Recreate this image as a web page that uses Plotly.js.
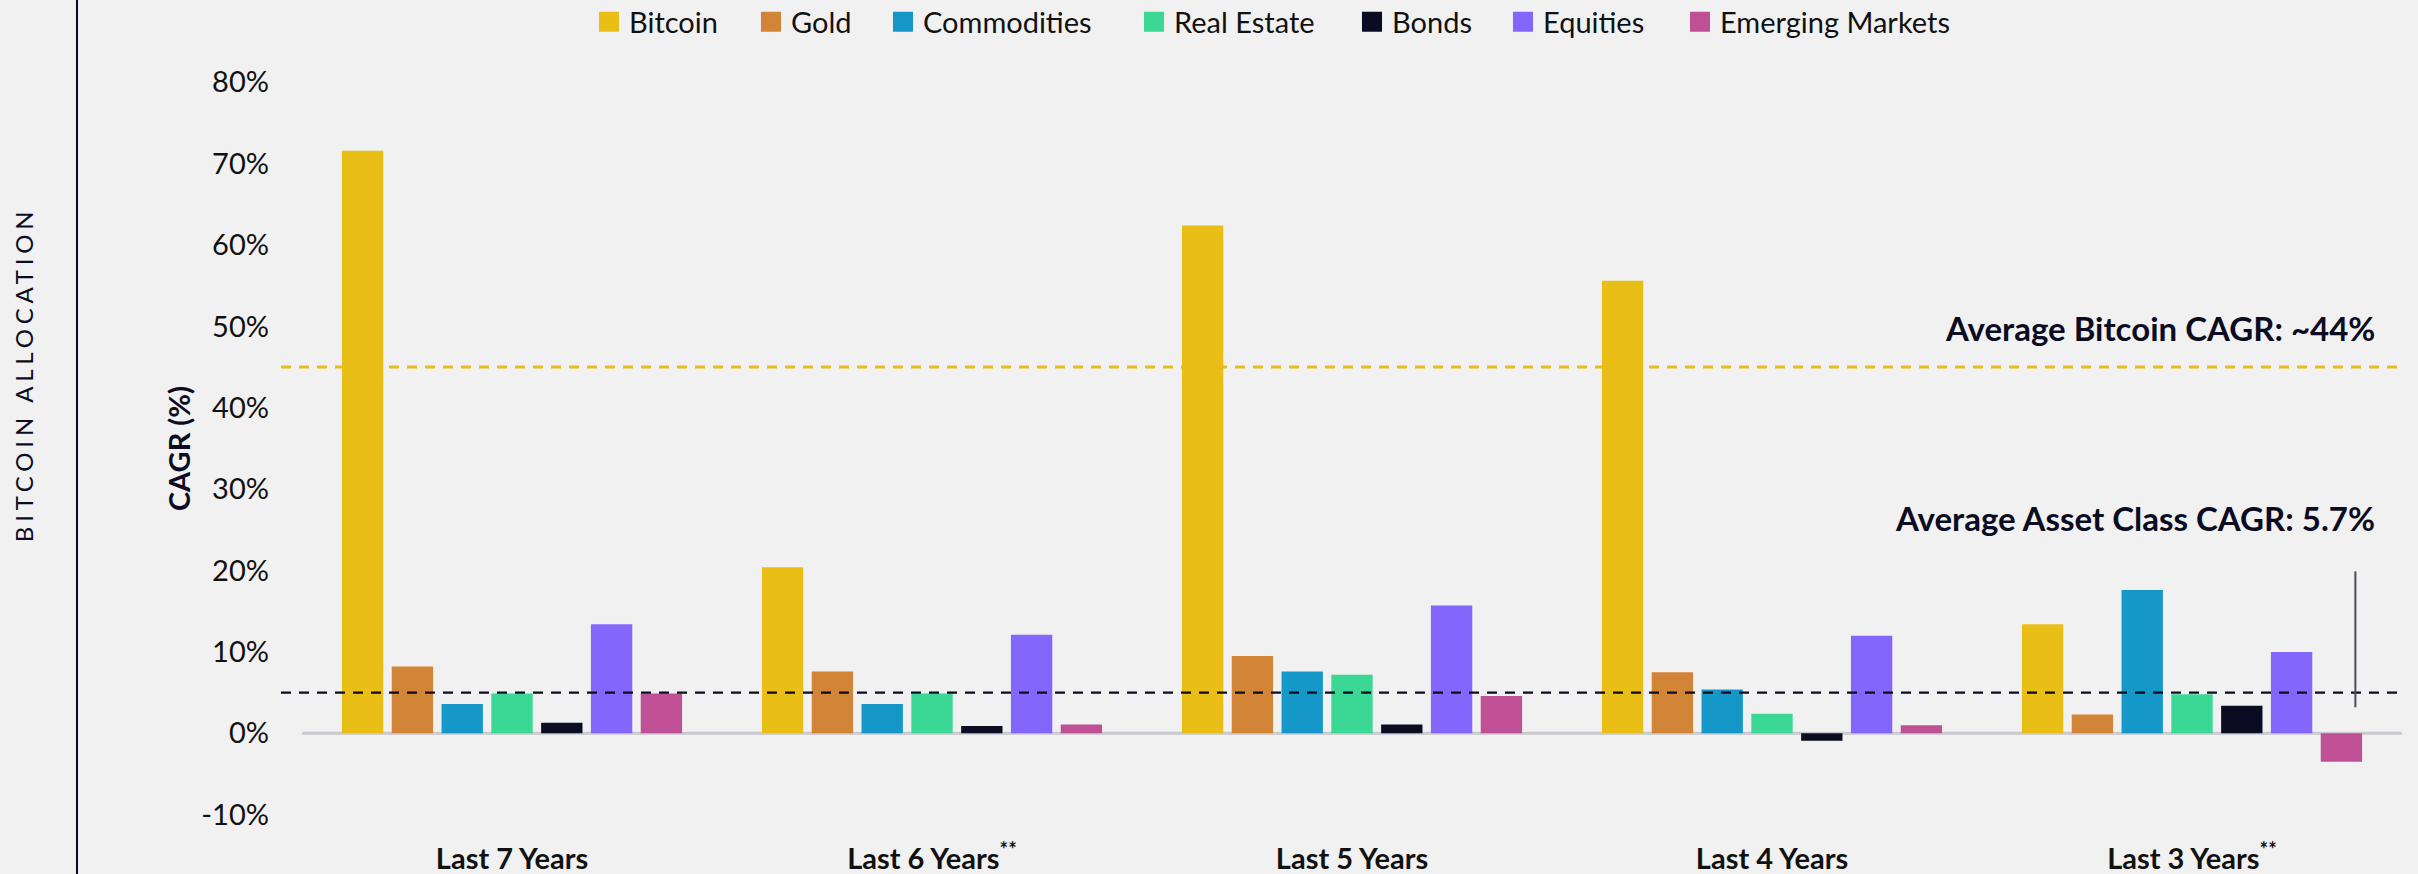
<!DOCTYPE html>
<html>
<head>
<meta charset="utf-8">
<script src="https://cdn.plot.ly/plotly-3.0.1.min.js"></script>
<style>
  html, body { margin: 0; padding: 0; background: #f1f1f1; }
  #chart { width: 2418px; height: 874px; }
</style>
</head>
<body>
<div id="chart"></div>
<script>
// ---- Data ----
const periods = ["Last 7 Years", "Last 6 Years<sup>**</sup>", "Last 5 Years", "Last 4 Years", "Last 3 Years<sup>**</sup>"];
const seriesNames = ["Bitcoin", "Gold", "Commodities", "Real Estate", "Bonds", "Equities", "Emerging Markets"];
const bitcoin     = [71.6, 20.4, 62.4, 55.6, 13.4];
const gold        = [8.2, 7.6, 9.5, 7.5, 2.3];
const commodities = [3.6, 3.6, 7.6, 5.4, 17.6];
const realEstate  = [4.9, 4.9, 7.2, 2.4, 4.8];
const bonds       = [1.3, 0.9, 1.1, -0.9, 3.4];
const equities    = [13.4, 12.1, 15.7, 12.0, 10.0];
const emerging    = [4.9, 1.1, 4.6, 1.0, -3.5];
const seriesValues = [bitcoin, gold, commodities, realEstate, bonds, equities, emerging];
const seriesColors = ["#E8BE17", "#D28437", "#1598C8", "#3AD894", "#0B0C22", "#8366FC", "#BF5096"];

const yTickVals = [-10, 0, 10, 20, 30, 40, 50, 60, 70, 80];
const yTickText = ["-10%", "0%", "10%", "20%", "30%", "40%", "50%", "60%", "70%", "80%"];

const avgBitcoinLine = 45.0;    // drawn position of the yellow dashed line
const avgAssetLine = 5.0;       // drawn position of the black dashed line
const markerLine = [3.2, 19.9]; // small vertical marker at the right
const labelBitcoin = "Average Bitcoin CAGR: ~44%";
const labelAsset = "Average Asset Class CAGR: 5.7%";
const sideLabel = "BITCOIN ALLOCATION";
const yTitle = "CAGR (%)";

// ---- Styling / layout ----
const FONT = "Lato, 'Open Sans', sans-serif";
const DARK = "#0B0C22";
const W = 2418, H = 874;
const M = { l: 302, r: 16, t: 66, b: 43 };
const plotW = W - M.l - M.r;
const plotH = H - M.t - M.b;
const px2x = px => (px - M.l) / plotW;
const px2y = py => (H - M.b - py) / plotH;

// legend swatch left edges (pixels) for the individual legend entries
const legendSwatchLeft = [599, 761, 893, 1144, 1362, 1513, 1690];
const legendKeys = seriesNames.map((_, i) => i === 0 ? "legend" : "legend" + (i + 1));

const traces = seriesNames.map((name, i) => ({
  type: "bar",
  name: name,
  x: periods,
  y: seriesValues[i],
  legend: legendKeys[i],
  marker: { color: seriesColors[i], line: { width: 0 } },
  hoverinfo: "skip"
}));

const layout = {
  width: W,
  height: H,
  paper_bgcolor: "#f1f1f1",
  plot_bgcolor: "#f1f1f1",
  margin: { l: M.l, r: M.r, t: M.t, b: M.b, autoexpand: false },
  barmode: "group",
  bargap: 0.17,
  bargroupgap: 0.17,
  font: { family: FONT, color: "#111111" },
  showlegend: true,
  xaxis: {
    type: "category",
    range: [-0.5, 4.5],
    showgrid: false,
    zeroline: false,
    showline: false,
    ticks: "",
    tickfont: { family: FONT, size: 29, color: "#111111", weight: "bold" },
    ticklabelstandoff: 8,
    automargin: false,
    fixedrange: true
  },
  yaxis: {
    range: [-12, 82],
    tickvals: yTickVals,
    ticktext: yTickText,
    showgrid: false,
    zeroline: false,
    showline: false,
    ticks: "",
    tickfont: { family: FONT, size: 29, color: "#111111" },
    ticklabelstandoff: 32,
    automargin: false,
    title: { text: "<b>" + yTitle + "</b>", font: { family: FONT, size: 29, color: DARK }, standoff: 2 },
    fixedrange: true
  },
  shapes: [
    // zero line
    { type: "line", xref: "paper", yref: "y", x0: 0, x1: 1, y0: 0, y1: 0,
      line: { color: "#C9C9CE", width: 3 }, layer: "below" },
    // average bitcoin CAGR
    { type: "line", xref: "paper", yref: "y", x0: px2x(281), x1: px2x(2397), y0: avgBitcoinLine, y1: avgBitcoinLine,
      line: { color: "#E8BE17", width: 3, dash: "10px,8px" }, layer: "above" },
    // average asset class CAGR
    { type: "line", xref: "paper", yref: "y", x0: px2x(281), x1: px2x(2397), y0: avgAssetLine, y1: avgAssetLine,
      line: { color: DARK, width: 2.2, dash: "10px,8px" }, layer: "above" },
    // vertical marker
    { type: "line", xref: "x", yref: "y", x0: 4.389, x1: 4.389, y0: markerLine[0], y1: markerLine[1],
      line: { color: "#4A4A5E", width: 2 }, layer: "above" },
    // left separator
    { type: "line", xref: "paper", yref: "paper", x0: px2x(77), x1: px2x(77), y0: px2y(H + 5), y1: px2y(-5),
      line: { color: DARK, width: 2 } }
  ],
  annotations: [
    { text: "<b>" + labelBitcoin + "</b>", xref: "paper", yref: "y", x: px2x(2377), y: 49.8,
      xanchor: "right", yanchor: "middle", showarrow: false,
      font: { family: FONT, size: 33, color: DARK } },
    { text: "<b>" + labelAsset + "</b>", xref: "paper", yref: "y", x: px2x(2377), y: 26.5,
      xanchor: "right", yanchor: "middle", showarrow: false,
      font: { family: FONT, size: 33, color: DARK } },
    { text: sideLabel, xref: "paper", yref: "paper", x: px2x(23), y: px2y(375),
      xanchor: "center", yanchor: "middle", showarrow: false, textangle: -90,
      font: { family: FONT, size: 24, color: DARK } }
  ]
};

// one legend box per series, placed like the reference's row of keys
legendKeys.forEach((key, i) => {
  layout[key] = {
    orientation: "h",
    x: px2x(legendSwatchLeft[i] - 10), xanchor: "left",
    y: px2y(22), yanchor: "middle",
    font: { family: FONT, size: 29, color: "#111111" },
    bgcolor: "rgba(0,0,0,0)",
    borderwidth: 0,
    itemclick: false, itemdoubleclick: false
  };
});

function draw() {
  return Plotly.newPlot("chart", traces, layout, { displayModeBar: false, staticPlot: true }).then(() => {
    document.querySelectorAll(".annotation-text").forEach(t => {
      if (t.textContent === sideLabel) t.style.letterSpacing = "4.8px";
    });
    document.querySelectorAll(".legendpoints path").forEach(p => {
      const bb = p.getBBox();
      if (!bb.width) return;
      const cx = bb.x + bb.width / 2, cy = bb.y + bb.height / 2;
      const prev = p.getAttribute("transform") || "";
      p.setAttribute("transform", prev + " translate(" + cx + "," + cy + ") scale(1.67) translate(" + (-cx) + "," + (-cy) + ")");
    });
  });
}

if (document.fonts && document.fonts.load) {
  Promise.all([
    document.fonts.load("29px Lato"),
    document.fonts.load("bold 29px Lato")
  ]).then(draw, draw);
} else {
  draw();
}
</script>
</body>
</html>
